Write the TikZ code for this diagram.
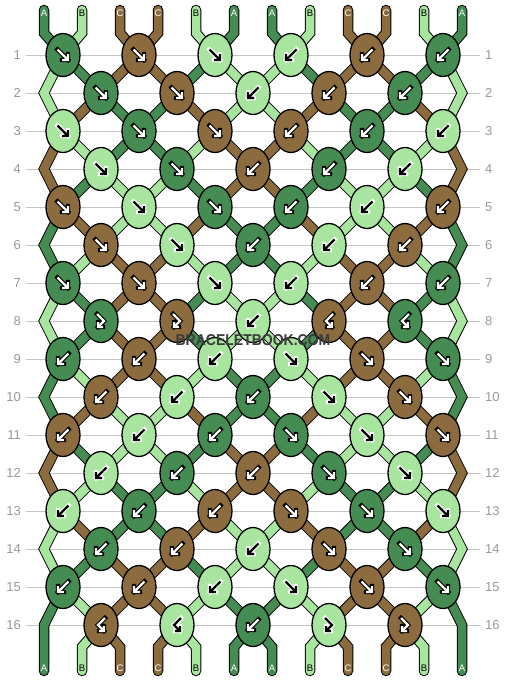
\documentclass[tikz,border=0pt]{standalone}
\usepackage{fontspec}
\setmainfont{Liberation Sans}
\usetikzlibrary{shapes.geometric}
\definecolor{c1}{HTML}{458C52}
\definecolor{c2}{HTML}{A8E6A0}
\definecolor{c3}{HTML}{8C6C3E}
\definecolor{gridgray}{HTML}{C4C4C4}
\definecolor{numgray}{HTML}{9A9A9A}
\definecolor{wmgray}{HTML}{3C3C3C}
\def\SA{{1,2,3,3,2,1,1,2,3,3,2,1}}
\def\SB{{2,1,3,3,1,2,2,1,3,3,1,2}}
\def\SC{{2,3,1,1,3,2,2,3,1,1,3,2}}
\def\SD{{3,2,1,1,2,3,3,2,1,1,2,3}}
\def\SE{{3,1,2,2,1,3,3,1,2,2,1,3}}
\def\SF{{1,3,2,2,3,1,1,3,2,2,3,1}}
\tikzset{
  strandsty/.style={draw=black, line width=1pt, double=c#1, double distance=8.5pt, line join=miter},
  knot/.style={ellipse, draw=black, line width=1.3pt, minimum width=34pt, minimum height=43pt, inner sep=0pt},
  arrowout/.style={line width=4.4pt, line join=miter, line cap=rect},
  arrowin/.style={line width=2.4pt, line join=miter},
  rownum/.style={font=\fontsize{13}{13}\selectfont, text=numgray, inner sep=0pt},
  gridline/.style={draw=gridgray, line width=1pt},
  lab/.style={font=\fontsize{9.5}{10}\selectfont, inner sep=0pt},
  labA/.style={text=white}, labB/.style={text=black}, labC/.style={text=white}
}
\newcommand\knotrow[2]{%
  \foreach \col/\ty [count=\kc] in {#2} {%
    \ifodd#1\relax \pgfmathtruncatemacro\pp{2*\kc-1}\else \pgfmathtruncatemacro\pp{2*\kc}\fi
    \node[knot, fill=c\col] (k-#1-\kc) at (s-#1-\pp) {};
    \ifnum\col=2 \def\ain{black}\def\aout{white}\else\def\ain{white}\def\aout{black}\fi
    \ifcase\ty\or \def\ap{(-5.5,-5.5) -- (5,5) (5,-1) -- (5,5) -- (-1,5)}%
    \or \def\ap{(5.5,-5.5) -- (-5,5) (-5,-1) -- (-5,5) -- (1,5)}%
    \or \def\ap{(-4,-7) -- (3,0) -- (-3,6) (-3,1) -- (-3,6) -- (2,6)}%
    \or \def\ap{(4,-7) -- (-3,0) -- (3,6) (3,1) -- (3,6) -- (-2,6)}\fi
    \begin{scope}[shift={(k-#1-\kc.center)}]
      \draw[arrowout, draw=\aout] \ap;
      \draw[arrowin, draw=\ain] \ap;
    \end{scope}
  }}
\begin{document}
\begin{tikzpicture}[x=1pt,y=-1pt]
\fill[white] (0,0) rectangle (506,680);
\useasboundingbox (0,0) rectangle (506,680);
% coordinates
\foreach \pp in {1,...,12} {
  \pgfmathsetmacro\xp{44+38*(\pp-1)}
  \coordinate (t-\pp) at (\xp,10);
  \coordinate (tb-\pp) at (\xp,33);
  \coordinate (bb-\pp) at (\xp,647);
  \coordinate (b-\pp) at (\xp,671);
  \foreach \r in {1,...,16} {
    \pgfmathsetmacro\yr{55+38*(\r-1)}
    \ifodd\r\relax
      \pgfmathsetmacro\xk{63+76*(ceil(\pp/2)-1)}
    \else
      \pgfmathsetmacro\xk{(\pp==1||\pp==12) ? \xp : 101+76*(floor(\pp/2)-1)}
    \fi
    \coordinate (s-\r-\pp) at (\xk,\yr);
  }
}
% row lines and numbers
\foreach \r in {1,...,16} {
  \pgfmathsetmacro\yr{55+38*(\r-1)}
  \node[rownum, anchor=east] (ln-\r) at (21,\yr) {\r};
  \node[rownum, anchor=west] (rn-\r) at (485,\yr) {\r};
  \draw[gridline] ([xshift=5pt]ln-\r.east) -- ([xshift=-5pt]rn-\r.west);
}
% top strands
\foreach \pp in {1,...,12} {
  \pgfmathtruncatemacro\cc{\SA[\pp-1]}
  \draw[strandsty=\cc, line cap=round] (t-\pp) -- (tb-\pp) -- (s-1-\pp);
}
% inner strands
\foreach \r/\LL in {1/B,2/C,3/D,4/E,5/F,6/A,7/B,8/B,9/A,10/F,11/E,12/D,13/C,14/B,15/A} {
  \edef\arr{\csname S\LL\endcsname}
  \pgfmathtruncatemacro\rn{\r+1}
  \foreach \pp in {2,...,11} {
    \pgfmathtruncatemacro\cc{\arr[\pp-1]}
    \draw[strandsty=\cc] (s-\r-\pp) -- (s-\rn-\pp);
  }
}
% edge zigzags
\foreach \r/\LL in {2/C,4/E,6/A,8/B,10/F,12/D,14/B} {
  \edef\arr{\csname S\LL\endcsname}
  \pgfmathtruncatemacro\rn{\r+1}
  \pgfmathtruncatemacro\rm{\r-1}
  \foreach \pp in {1,12} {
    \pgfmathtruncatemacro\cc{\arr[\pp-1]}
    \draw[strandsty=\cc] (s-\rm-\pp) -- (s-\r-\pp) -- (s-\rn-\pp);
  }
}
\foreach \pp in {1,12} {
  \pgfmathtruncatemacro\cc{\SA[\pp-1]}
  \draw[strandsty=\cc, line cap=round] (s-15-\pp) -- (s-16-\pp) -- (b-\pp);
}
% bottom strands
\foreach \pp in {2,...,11} {
  \pgfmathtruncatemacro\cc{\SA[\pp-1]}
  \draw[strandsty=\cc, line cap=round] (s-16-\pp) -- (bb-\pp) -- (b-\pp);
}
% labels
\foreach \pp/\LL in {1/A,2/B,3/C,4/C,5/B,6/A,7/A,8/B,9/C,10/C,11/B,12/A} {
  \node[lab, lab\LL] (tl-\pp) at ([yshift=-3pt]t-\pp) {\LL};
  \node[lab, lab\LL] (bl-\pp) at ([yshift=3pt]b-\pp) {\LL};
}
% knots
\knotrow{1}{1/1,3/1,2/1,2/2,3/2,1/2}
\knotrow{2}{1/1,3/1,2/2,3/2,1/2}
\knotrow{3}{2/1,1/1,3/1,3/2,1/2,2/2}
\knotrow{4}{2/1,1/1,3/2,1/2,2/2}
\knotrow{5}{3/1,2/1,1/1,1/2,2/2,3/2}
\knotrow{6}{3/1,2/1,1/2,2/2,3/2}
\knotrow{7}{1/1,3/1,2/1,2/2,3/2,1/2}
\knotrow{8}{1/3,3/3,2/2,3/4,1/4}
\knotrow{9}{1/2,3/2,2/2,2/1,3/1,1/1}
\knotrow{10}{3/2,2/2,1/2,2/1,3/1}
\knotrow{11}{3/2,2/2,1/2,1/1,2/1,3/1}
\knotrow{12}{2/2,1/2,3/2,1/1,2/1}
\knotrow{13}{2/2,1/2,3/2,3/1,1/1,2/1}
\knotrow{14}{1/2,3/2,2/2,3/1,1/1}
\knotrow{15}{1/2,3/2,2/2,2/1,3/1,1/1}
\knotrow{16}{3/4,2/4,1/2,2/3,3/3}
% watermark
\node[font=\bfseries\fontsize{14}{14}\selectfont, text=wmgray, inner sep=0pt] (wm) at (253,340) {\scalebox{1}[1.12]{BRACELETBOOK.COM}};
\end{tikzpicture}
\end{document}
